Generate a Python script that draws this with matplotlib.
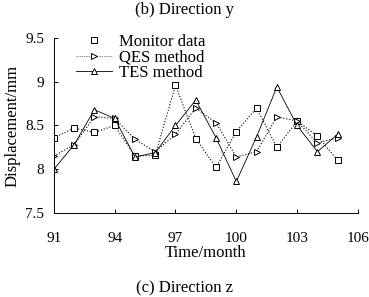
import matplotlib.pyplot as plt
from matplotlib.lines import Line2D

plt.rcParams['font.family'] = ['Liberation Serif', 'DejaVu Serif']

months = list(range(91, 106))
monitor = [8.36, 8.47, 8.42, 8.50, 8.15, 8.16, 8.96, 8.35, 8.02, 8.43, 8.70, 8.25, 8.55, 8.38, 8.10]
qes = [8.15, 8.28, 8.60, 8.58, 8.34, 8.20, 8.40, 8.70, 8.53, 8.14, 8.20, 8.60, 8.55, 8.30, 8.36]
tes = [8.00, 8.28, 8.68, 8.58, 8.14, 8.19, 8.50, 8.79, 8.36, 7.86, 8.37, 8.94, 8.50, 8.20, 8.40]

xticks = [91, 94, 97, 100, 103, 106]
yticks = [7.5, 8, 8.5, 9, 9.5]
yticklabels = ['7.5', '8', '8.5', '9', '9.5']

fig = plt.figure(figsize=(3.69, 2.97), dpi=100)
ax = fig.add_axes([0.146, 0.283, 0.824, 0.589])

mk = dict(ms=4, mfc='white', mec='black', mew=0.7, color='black')
ax.plot(months, monitor, ls=':', lw=0.8, marker='s', **mk)
ax.plot(months, qes, ls=':', lw=0.8, marker='>', **mk)
ax.plot(months, tes, ls='-', lw=0.6, marker='^', **mk)

ax.set_xlim(91, 106)
ax.set_ylim(7.5, 9.5)
ax.set_xticks(xticks)
ax.set_yticks(yticks)
ax.set_yticklabels(yticklabels)
ax.tick_params(direction='in', length=3, width=0.7, labelsize=11)
ax.tick_params(axis='x', pad=14)
ax.tick_params(axis='y', pad=7)
for s in ['top', 'right']:
    ax.spines[s].set_visible(False)
for s in ['left', 'bottom']:
    ax.spines[s].set_linewidth(0.7)

ax.set_xlabel('Time/month', fontsize=12, labelpad=0)
ax.set_ylabel('Displacement/mm', fontsize=12, labelpad=3)

handles = [
    Line2D([], [], ls='none', marker='s', **mk),
    Line2D([], [], ls=':', lw=0.5, marker='>', **mk),
    Line2D([], [], ls='-', lw=0.6, marker='^', **mk),
]
labels = ['Monitor data', 'QES method', 'TES method']
ax.legend(handles, labels, loc='upper left', bbox_to_anchor=(0.05, 1.06),
          frameon=False, fontsize=12, handlelength=2.2, handletextpad=0.4,
          labelspacing=-0.05, borderaxespad=0)

fig.text(0.5, 0.965, '(b) Direction y', ha='center', va='center', fontsize=12)
fig.text(0.5, 0.03, '(c) Direction z', ha='center', va='center', fontsize=12)

fig.savefig('out.png', dpi=100)
